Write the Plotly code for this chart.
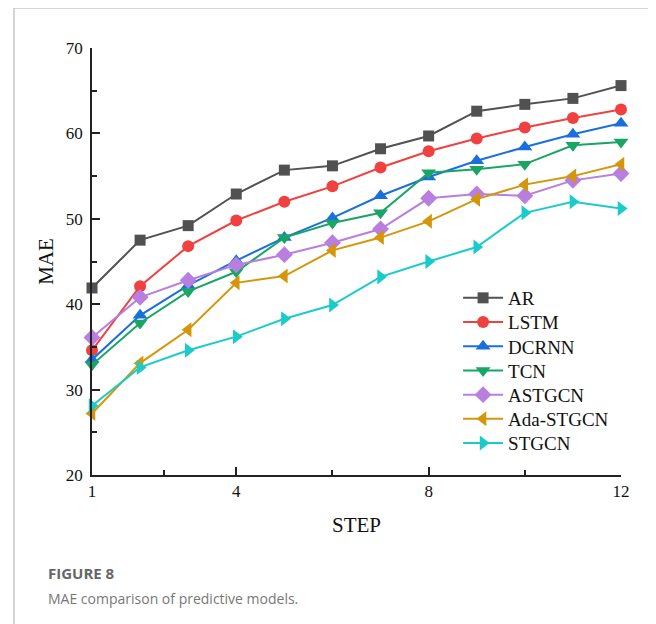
import plotly.graph_objects as go

steps = list(range(1, 13))
models = ["AR", "LSTM", "DCRNN", "TCN", "ASTGCN", "Ada-STGCN", "STGCN"]
ar = [41.9, 47.5, 49.2, 52.9, 55.7, 56.2, 58.2, 59.7, 62.6, 63.4, 64.1, 65.6]
lstm = [34.6, 42.1, 46.8, 49.8, 52.0, 53.8, 56.0, 57.9, 59.4, 60.7, 61.8, 62.8]
dcrnn = [33.5, 38.7, 42.2, 45.1, 47.8, 50.1, 52.7, 54.9, 56.8, 58.4, 59.9, 61.2]
tcn = [32.9, 37.8, 41.5, 43.8, 47.8, 49.5, 50.7, 55.4, 55.8, 56.4, 58.6, 59.0]
astgcn = [36.1, 40.8, 42.8, 44.6, 45.8, 47.2, 48.8, 52.4, 52.9, 52.7, 54.5, 55.3]
ada = [27.2, 33.1, 37.0, 42.5, 43.3, 46.3, 47.8, 49.7, 52.3, 54.0, 55.0, 56.4]
stgcn = [28.1, 32.6, 34.6, 36.2, 38.3, 39.9, 43.2, 45.0, 46.7, 50.7, 52.0, 51.2]
series = [ar, lstm, dcrnn, tcn, astgcn, ada, stgcn]
colors = ["#515151", "#F14040", "#1A6FDF", "#18A566", "#B87EE0", "#D4960A", "#1BCBCB"]
symbols = ["square", "circle", "triangle-up", "triangle-down", "diamond", "triangle-left", "triangle-right"]
sizes = [11, 12, 13, 13, 13, 13, 13]
xticks = [1, 4, 8, 12]
xminor = [2.5, 6, 10]

serif = "Liberation Serif"
sans = "Open Sans"

fig = go.Figure()
legend_layout = {}
for i, (name, vals, c, s, sz) in enumerate(zip(models, series, colors, symbols, sizes)):
    lg = "legend" if i == 0 else f"legend{i + 1}"
    fig.add_trace(go.Scatter(
        x=steps, y=vals, name=name, mode="lines+markers",
        line=dict(color=c, width=2),
        marker=dict(symbol=s, size=sz, color=c),
        cliponaxis=False, legend=lg,
    ))
    yc = 298 + i * 24.2
    legend_layout[lg] = dict(x=0.692, y=(475 - yc) / 427, xanchor="left", yanchor="middle",
                             font=dict(family=serif, size=19, color="#111"),
                             bgcolor="rgba(0,0,0,0)", itemwidth=40)

fig.update_layout(
    width=648, height=616,
    margin=dict(l=84, r=35, t=40, b=149),
    paper_bgcolor="white", plot_bgcolor="white",
    showlegend=True,
    xaxis=dict(range=[1, 12], tickmode="array", tickvals=xticks,
               ticktext=[str(v) for v in xticks],
               ticks="inside", ticklen=8, tickwidth=1.5, tickcolor="#222",
               showline=True, linecolor="#222", linewidth=1.5, showgrid=False,
               zeroline=False,
               minor=dict(tickmode="array", tickvals=xminor, ticks="inside", ticklen=5,
                          tickwidth=1.5, tickcolor="#222", showgrid=False),
               tickfont=dict(family=serif, size=17, color="#111"),
               title=dict(text="STEP", font=dict(family=serif, size=21, color="#111"), standoff=17)),
    yaxis=dict(range=[20, 70], tickmode="array", tickvals=[20, 30, 40, 50, 60, 70],
               ticks="inside", ticklen=8, tickwidth=1.5, tickcolor="#222",
               showline=True, linecolor="#222", linewidth=1.5, showgrid=False,
               zeroline=False, ticklabelstandoff=4,
               minor=dict(tickmode="array", tickvals=[25, 35, 45, 55, 65], ticks="inside",
                          ticklen=5, tickwidth=1.5, tickcolor="#222", showgrid=False),
               tickfont=dict(family=serif, size=17, color="#111"),
               title=dict(text="MAE", font=dict(family=serif, size=21, color="#111"), standoff=6)),
    **legend_layout,
)

fig.add_shape(type="rect", xref="paper", yref="paper",
              x0=(14 - 92) / 529, x1=(654 - 92) / 529,
              y0=(475 - 640) / 427, y1=(475 - 8) / 427,
              line=dict(color="#c8c8c8", width=1.5), layer="below")

fig.add_annotation(xref="paper", yref="paper", x=(46 - 92) / 529, y=(475 - 573) / 427,
                   xanchor="left", yanchor="middle", showarrow=False,
                   text="<b>FIGURE 8</b>",
                   font=dict(family=sans, size=15, color="#666"))
fig.add_annotation(xref="paper", yref="paper", x=(46 - 92) / 529, y=(475 - 598) / 427,
                   xanchor="left", yanchor="middle", showarrow=False,
                   text="MAE comparison of predictive models.",
                   font=dict(family=sans, size=14, color="#777"))

fig.write_html("out.html")
